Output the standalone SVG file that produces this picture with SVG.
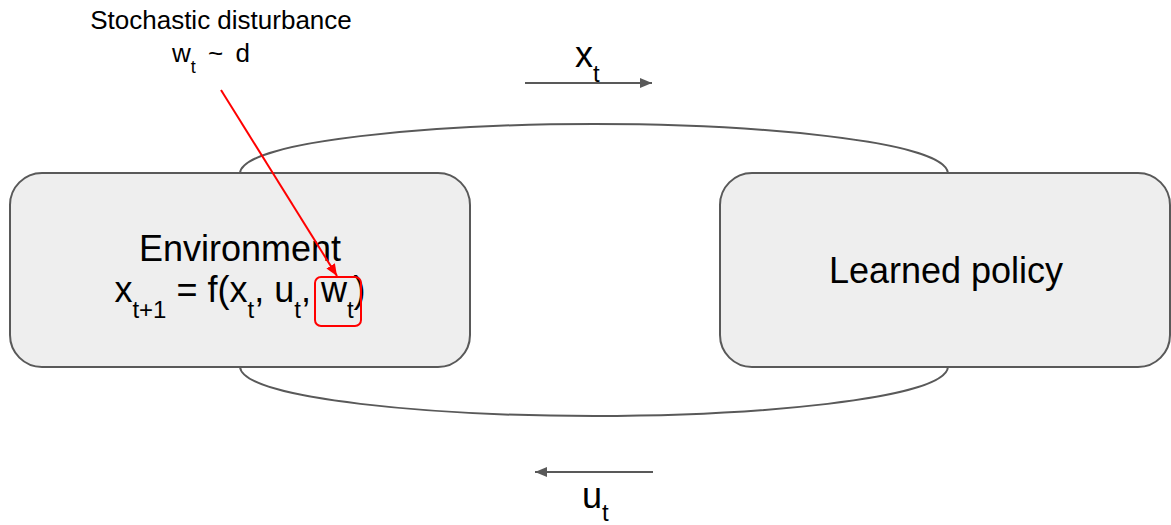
<svg xmlns="http://www.w3.org/2000/svg" width="1171" height="525" viewBox="0 0 1171 525">
  <style>
    .box { fill: #eeeeee; stroke: #595959; stroke-width: 2; }
    .conn { fill: none; stroke: #595959; stroke-width: 2; }
    .red { fill: none; stroke: #ff0000; stroke-width: 2; }
    .t { font-family: "Liberation Sans", Arial, sans-serif; fill: #000000; }
  </style>
  <defs>
    <marker id="arrGrey" markerUnits="userSpaceOnUse" markerWidth="13" markerHeight="10" refX="12" refY="5" orient="auto">
      <path d="M0,0 L12,5 L0,10 z" fill="#595959"/>
    </marker>
    <marker id="arrRed" markerUnits="userSpaceOnUse" markerWidth="13" markerHeight="10" refX="12" refY="5" orient="auto">
      <path d="M0,0 L12,5 L0,10 z" fill="#ff0000"/>
    </marker>
  </defs>

  <g id="connectors">
    <path class="conn" d="M240,173 C243,140 440,124 594,124 C748,124 945,140 948,173"/>
    <path class="conn" d="M240,367 C243,400 440,416 594,416 C748,416 945,400 948,367"/>
    <line class="conn" x1="525" y1="83" x2="652" y2="83" marker-end="url(#arrGrey)"/>
    <line class="conn" x1="653" y1="472" x2="535" y2="472" marker-end="url(#arrGrey)"/>
  </g>

  <g id="environment">
    <rect class="box" x="10" y="173" width="460" height="194" rx="32" ry="32"/>
    <text class="t" x="240" y="261" font-size="36" text-anchor="middle">Environment</text>
    <text class="t" x="240" y="302" font-size="36" text-anchor="middle">x<tspan font-size="24" dy="16">t+1</tspan><tspan dy="-16"> = f(x</tspan><tspan font-size="24" dy="16">t</tspan><tspan dy="-16">, u</tspan><tspan font-size="24" dy="16">t</tspan><tspan dy="-16">, w</tspan><tspan font-size="24" dy="16">t</tspan><tspan dy="-16">)</tspan></text>
  </g>

  <g id="learned-policy">
    <rect class="box" x="720" y="173" width="450" height="194" rx="32" ry="32"/>
    <text class="t" x="946" y="283" font-size="36" text-anchor="middle">Learned policy</text>
  </g>

  <g id="label-xt">
    <text class="t" x="575" y="67" font-size="36">x<tspan font-size="24" dy="15">t</tspan></text>
  </g>

  <g id="label-ut">
    <text class="t" x="582" y="508" font-size="36">u<tspan font-size="24" dy="13">t</tspan></text>
  </g>

  <g id="disturbance">
    <text class="t" x="221" y="29" font-size="26" text-anchor="middle">Stochastic disturbance</text>
    <text class="t" x="211" y="62" font-size="26" text-anchor="middle" word-spacing="5">w<tspan font-size="18" dy="11">t</tspan><tspan dy="-11"> ~ d</tspan></text>
    <line class="red" x1="221" y1="90" x2="337" y2="276" marker-end="url(#arrRed)"/>
    <rect class="red" x="315" y="277" width="46" height="49" rx="6" ry="6"/>
  </g>
</svg>
